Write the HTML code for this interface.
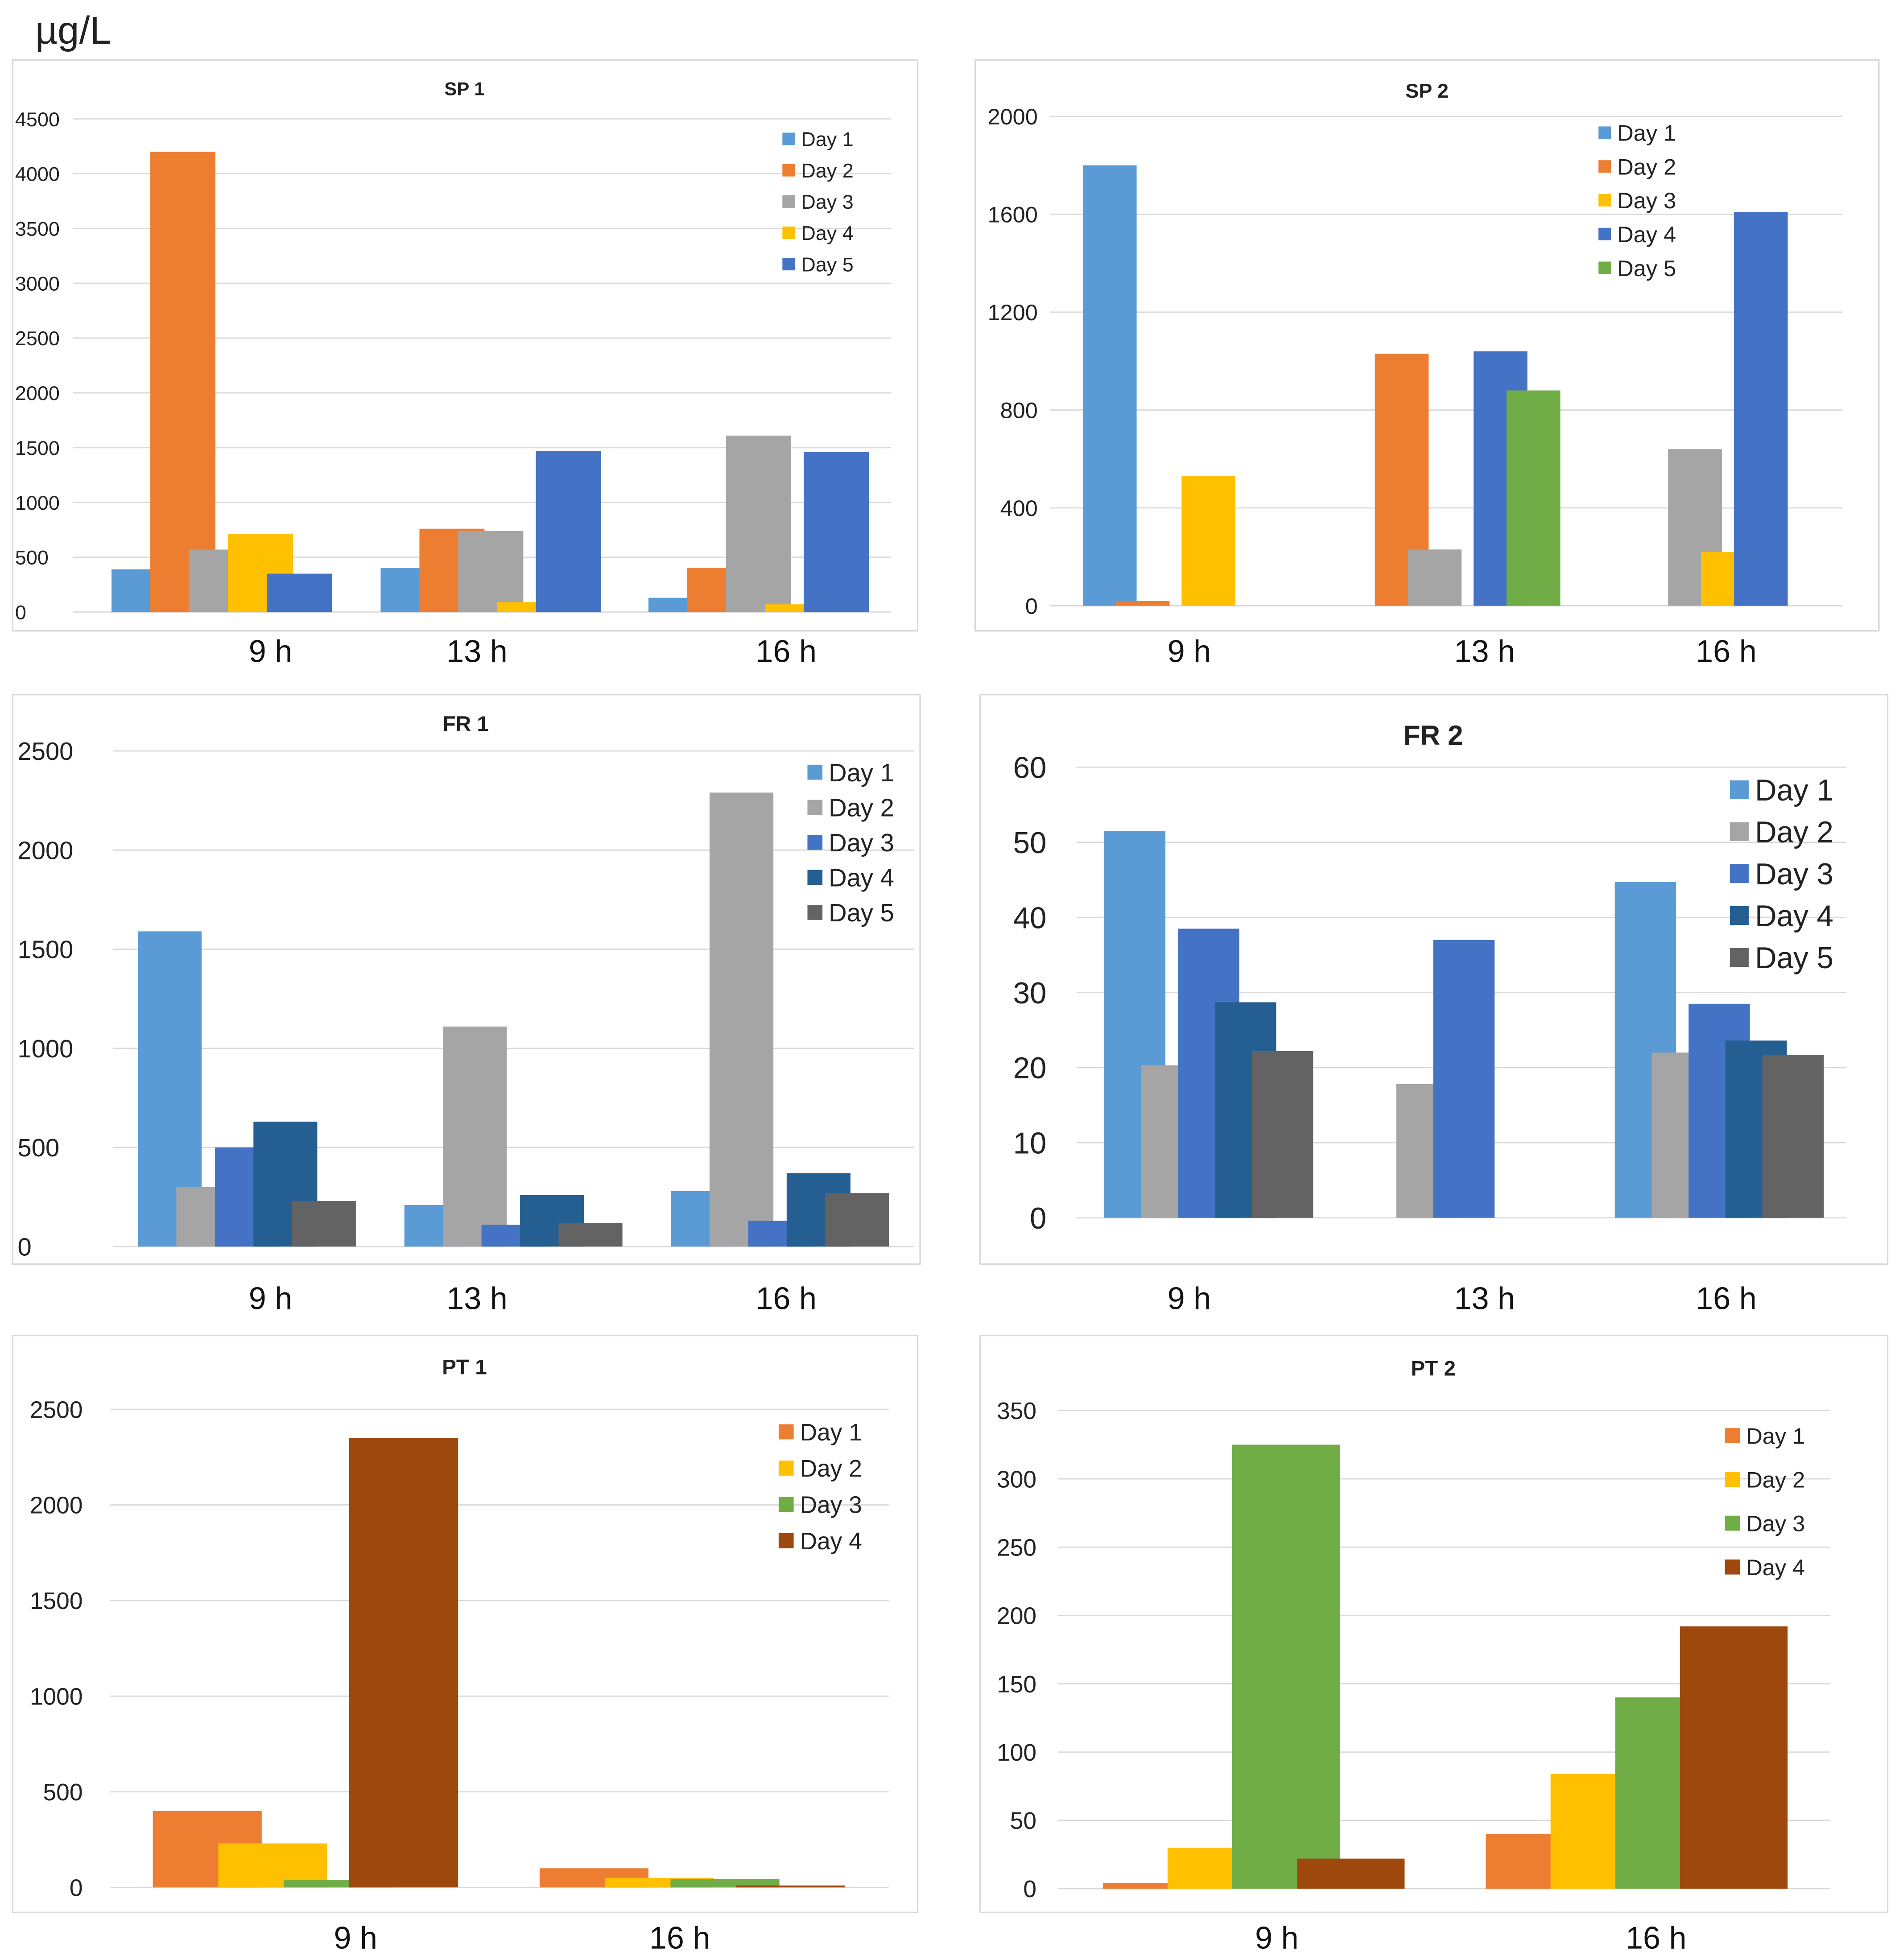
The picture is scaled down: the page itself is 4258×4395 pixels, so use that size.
<!DOCTYPE html>
<html><head><meta charset="utf-8"><style>
html,body{margin:0;padding:0;background:#fff}
svg{display:block}
text{font-family:"Liberation Sans",sans-serif}
</style></head><body>
<svg id="root" width="4258" height="4395" viewBox="0 0 1517 1566" xmlns="http://www.w3.org/2000/svg">
<rect width="1517" height="1566" fill="#fff"/>
<text x="28" y="35" font-size="31" fill="#222">µg/L</text>
</svg>
<script>
// ---- data ----
const categoriesA = ["9 h","13 h","16 h"];
const categoriesB = ["9 h","16 h"];
const sp1Series = ["Day 1","Day 2","Day 3","Day 4","Day 5"];
const sp1Values = [[390,400,130],[4200,760,400],[570,740,1610],[710,90,70],[350,1470,1460]];
const sp1Ticks = [0,500,1000,1500,2000,2500,3000,3500,4000,4500];
const sp2Series = ["Day 1","Day 2","","Day 3","Day 4","Day 5"];
const sp2Values = [[1800,0,0],[20,1030,0],[0,230,640],[530,0,220],[0,1040,1610],[0,880,0]];
const sp2Ticks = [0,400,800,1200,1600,2000];
const fr1Series = ["Day 1","Day 2","Day 3","Day 4","Day 5"];
const fr1Values = [[1590,210,280],[300,1110,2290],[500,110,130],[630,260,370],[230,120,270]];
const fr1Ticks = [0,500,1000,1500,2000,2500];
const fr2Series = ["Day 1","Day 2","Day 3","Day 4","Day 5"];
const fr2Values = [[51.5,0,44.7],[20.3,17.8,22],[38.5,37,28.5],[28.7,0,23.6],[22.2,0,21.7]];
const fr2Ticks = [0,10,20,30,40,50,60];
const pt1Series = ["Day 1","Day 2","Day 3","Day 4"];
const pt1Values = [[400,100],[230,50],[40,45],[2350,10]];
const pt1Ticks = [0,500,1000,1500,2000,2500];
const pt2Series = ["Day 1","Day 2","Day 3","Day 4"];
const pt2Values = [[4,40],[30,84],[325,140],[22,192]];
const pt2Ticks = [0,50,100,150,200,250,300,350];

const NS="http://www.w3.org/2000/svg";
const root=document.getElementById('root');
function mk(tag,attrs,parent,txt){const e=document.createElementNS(NS,tag);for(const k in attrs)e.setAttribute(k,attrs[k]);if(txt!==undefined)e.textContent=txt;(parent||root).appendChild(e);return e;}

function chart(c){
  const g=mk('g',{});
  
  
  const box=mk('rect',{x:c.box[0],y:c.box[1],width:c.box[2]-c.box[0],height:c.box[3]-c.box[1],fill:'#fff',stroke:'#d9d9d9','stroke-width':1.2},g);
  
  
  const t=mk('text',{x:c.title[0],y:c.title[1],'font-size':c.titleSize,'font-weight':'bold','text-anchor':'middle',fill:'#222'},g,c.titleText);
  
  
  const max=c.ticks[c.ticks.length-1];
  const y=v=>c.y0-(v/max)*(c.y0-c.yTop);
  c.ticks.forEach(v=>{
    const l=mk('line',{x1:c.gx[0],x2:c.gx[1],y1:y(v),y2:y(v),stroke:'#d9d9d9','stroke-width':1},g);
    
    
    const tx=mk('text',{x:c.lx,y:y(v)+c.tickSize*0.36,'font-size':c.tickSize,'text-anchor':c.anchor,fill:'#222'},g,String(v));
    
    
  });
  c.values.forEach((arr,s)=>{
    arr.forEach((v,i)=>{
      if(v<=0)return;
      const x=c.starts[i]+s*c.step;
      const r=mk('rect',{x:x,y:y(v),width:c.bw,height:c.y0-y(v),fill:c.colors[s]},g);
      
      
    });
  });
  let li=0;
  c.series.forEach((nm,s)=>{
    if(!nm)return;
    const ly=c.leg[1]+li*c.legStep;
    li++;
    const sq=mk('rect',{x:c.leg[0],y:ly-c.legSq/2,width:c.legSq,height:c.legSq,fill:c.colors[s]},g);
    
    
    const lt=mk('text',{x:c.leg[0]+c.legSq+5,y:ly+c.legSize*0.36,'font-size':c.legSize,fill:'#222'},g,nm);
    
    
  });
  c.cats.forEach((nm,i)=>{
    const ct=mk('text',{x:c.catX[i],y:c.catY,'font-size':25,'text-anchor':'middle',fill:'#111'},g,nm);
    
    
  });
}

chart({name:'sp1',titleText:'SP 1',box:[10,48,733,504],title:[371,76],titleSize:15,ticks:sp1Ticks,y0:489,yTop:95,gx:[58,712],lx:12,anchor:'start',tickSize:16,
 values:sp1Values,series:sp1Series,colors:['#5b9bd5','#ed7d31','#a5a5a5','#ffc000','#4472c4'],starts:[89,304,518],step:31,bw:52,
 leg:[625,111],legStep:25,legSq:10,legSize:16,cats:categoriesA,catX:[216,381,628],catY:529});
chart({name:'sp2',titleText:'SP 2',box:[779,48,1501,504],title:[1140,78],titleSize:16,ticks:sp2Ticks,y0:484,yTop:93,gx:[839,1472],lx:829,anchor:'end',tickSize:18,
 values:sp2Values,series:sp2Series,colors:['#5b9bd5','#ed7d31','#a5a5a5','#ffc000','#4472c4','#70ad47'],starts:[865,1072,1280],step:26.3,bw:43,
 leg:[1277,106],legStep:27,legSq:10,legSize:18,cats:categoriesA,catX:[950,1186,1379],catY:529});
chart({name:'fr1',titleText:'FR 1',box:[10,555,735,1010],title:[372,584],titleSize:17,ticks:fr1Ticks,y0:996,yTop:600,gx:[90,730],lx:14,anchor:'start',tickSize:20,
 values:fr1Values,series:fr1Series,colors:['#5b9bd5','#a5a5a5','#4472c4','#255e91','#636363'],starts:[110,323,536],step:30.8,bw:51,
 leg:[645,617],legStep:28,legSq:12,legSize:20,cats:categoriesA,catX:[216,381,628],catY:1046});
chart({name:'fr2',titleText:'FR 2',box:[783,555,1508,1010],title:[1145,595],titleSize:22,ticks:fr2Ticks,y0:973,yTop:613,gx:[860,1475],lx:836,anchor:'end',tickSize:24,
 values:fr2Values,series:fr2Series,colors:['#5b9bd5','#a5a5a5','#4472c4','#255e91','#636363'],starts:[882,1086,1290],step:29.5,bw:49,
 leg:[1382,631],legStep:33.5,legSq:15,legSize:24,cats:categoriesA,catX:[950,1186,1379],catY:1046});
chart({name:'pt1',titleText:'PT 1',box:[10,1067,733,1528],title:[371,1098],titleSize:17,ticks:pt1Ticks,y0:1508,yTop:1126,gx:[88,710],lx:66,anchor:'end',tickSize:19,
 values:pt1Values,series:pt1Series,colors:['#ed7d31','#ffc000','#70ad47','#9e480e'],starts:[122,431],step:52.3,bw:87,
 leg:[622,1144],legStep:29,legSq:12,legSize:19,cats:categoriesB,catX:[284,543],catY:1557});
chart({name:'pt2',titleText:'PT 2',box:[783,1067,1508,1528],title:[1145,1099],titleSize:17,ticks:pt2Ticks,y0:1509,yTop:1127,gx:[845,1462],lx:828,anchor:'end',tickSize:19,
 values:pt2Values,series:pt2Series,colors:['#ed7d31','#ffc000','#70ad47','#9e480e'],starts:[881,1187],step:51.7,bw:86,
 leg:[1378,1147],legStep:35,legSq:12,legSize:18,cats:categoriesB,catX:[1020,1323],catY:1557});
</script>
</body></html>
